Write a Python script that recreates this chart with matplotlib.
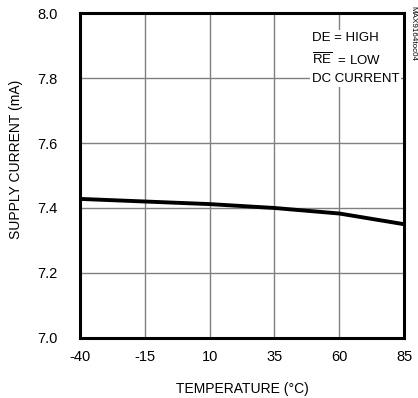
import matplotlib
matplotlib.use("Agg")
import matplotlib.pyplot as plt
from matplotlib import font_manager

# data
temperature = [-40, -15, 10, 35, 60, 85]
supply_current = [7.428, 7.420, 7.412, 7.400, 7.383, 7.350]
x_ticks = [-40, -15, 10, 35, 60, 85]
y_ticks = [7.0, 7.2, 7.4, 7.6, 7.8, 8.0]

names = {f.name for f in font_manager.fontManager.ttflist}
family = "Liberation Sans Narrow" if "Liberation Sans Narrow" in names else "Liberation Sans"
plt.rcParams["font.family"] = [family, "DejaVu Sans"]
plt.rcParams["mathtext.fontset"] = "custom"
plt.rcParams["mathtext.rm"] = family
plt.rcParams["axes.unicode_minus"] = False

fig = plt.figure(figsize=(4.18, 3.98), dpi=100)
ax = fig.add_axes([0.191, 0.151, 0.776, 0.816])

ax.plot(temperature, supply_current, color="black", linewidth=2.8, solid_capstyle="butt", zorder=3)

ax.set_xlim(-40, 85)
ax.set_ylim(7.0, 8.0)
ax.set_xticks(x_ticks)
ax.set_yticks(y_ticks)
ax.set_yticklabels(["{:.1f}".format(v) for v in y_ticks])
ax.grid(True, color="#808080", linewidth=1.0)
ax.tick_params(length=0, labelsize=10.5)
ax.tick_params(axis="y", pad=16)
ax.tick_params(axis="x", pad=9)
for s in ax.spines.values():
    s.set_linewidth(2.2)

ax.set_xlabel("TEMPERATURE (°C)", fontsize=10)
ax.xaxis.set_label_coords(0.5, -0.135)
ax.set_ylabel("SUPPLY CURRENT (mA)", fontsize=10)
ax.yaxis.set_label_coords(-0.175, 0.55)

# condition box
txt = "DE = HIGH\n$\\overline{\\mathrm{RE}}$  = LOW\nDC CURRENT"
ax.text(0.985, 0.943, txt, transform=ax.transAxes, fontsize=9.5, va="top", ha="right",
        multialignment="left", linespacing=1.6,
        bbox=dict(facecolor="white", edgecolor="none", pad=1.0), zorder=4)

fig.text(0.9885, 0.985, "MAX9164toc04", rotation=270, fontsize=5.8, va="top", ha="center")

fig.savefig("out.png", dpi=100)
